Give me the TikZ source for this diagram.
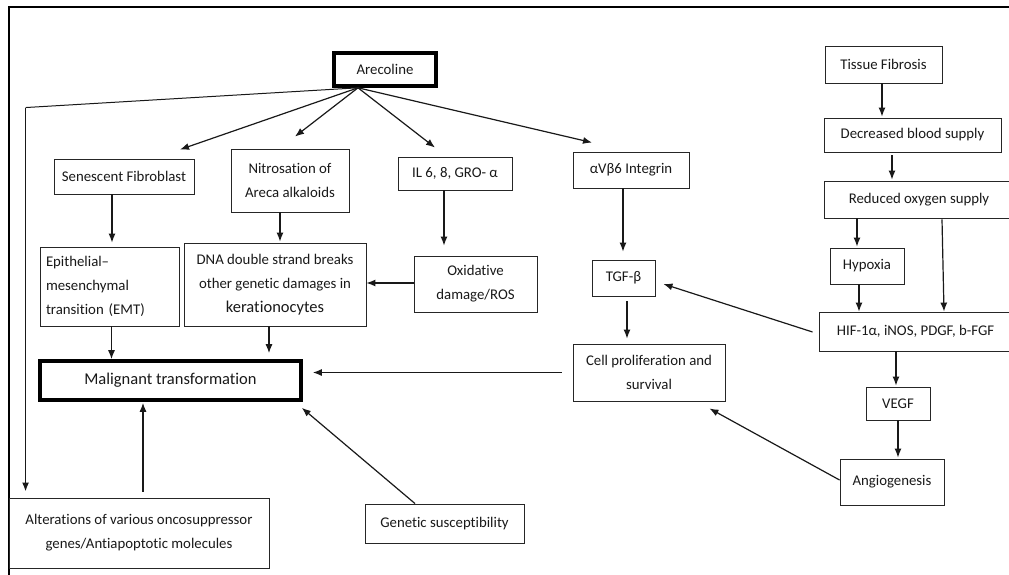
\documentclass[tikz,border=0pt]{standalone}
\usepackage{fontspec}
\setmainfont{Carlito}[Ligatures=NoCommon]
\usetikzlibrary{calc,arrows.meta}
\tikzset{
  box/.style={draw=black!85, line width=0.9pt, inner sep=0pt, align=center, text=black!90,
    font=\fontsize{14.8}{24}\selectfont},
  thickbox/.style={box, line width=3.6pt, draw=black},
  arr/.style={draw=black!90, line width=1.2pt, -{Latex[length=9pt,width=7pt]}},
  frame/.style={draw=black, line width=1.3pt}
}
\begin{document}
\begin{tikzpicture}[x=1pt,y=-1pt]
\useasboundingbox (0,0) rectangle (1009,574);
\clip (0,0) rectangle (1009,574);
\fill[white] (0,0) rectangle (1009,574);
% frame
\draw[frame] (1012,7) -- (9,7) -- (9,580);
% nodes
\node[thickbox, minimum width=102pt, minimum height=33pt] (are) at (385,69.5) {Arecoline};
\node[box, minimum width=140pt, minimum height=35pt] (sen) at (124,176.5) {Senescent Fibroblast};
\node[box, minimum width=118pt, minimum height=63pt] (nit) at (290,180.5) {Nitrosation of\\Areca alkaloids};
\node[box, minimum width=114pt, minimum height=33pt] (il) at (455,173.5) {IL 6, 8, GRO- α};
\node[box, minimum width=116pt, minimum height=36pt] (itg) at (631,170) {αVβ6 Integrin};
\node[box, minimum width=139pt, minimum height=79pt, text width=127pt, align=left] (emt) at (109.5,286.5) {Epithelial–\\mesenchymal\\transition (EMT)};
\node[box, minimum width=182pt, minimum height=83pt] (dna) at (275,284.5) {DNA double strand breaks\\other genetic damages in\\{\fontsize{16.5}{24}\selectfont kerationocytes}};
\node[box, minimum width=123pt, minimum height=56pt] (oxi) at (475.5,284) {Oxidative\\damage/ROS};
\node[thickbox, minimum width=261pt, minimum height=39pt, font=\fontsize{16.5}{24}\selectfont] (mal) at (170.5,380.5) {Malignant transformation};
\node[box, minimum width=260pt, minimum height=70pt] (alt) at (139,533) {\raisebox{5pt}{\parbox{255pt}{\centering Alterations of various oncosuppressor\\genes/Antiapoptotic molecules}}};
\node[box, minimum width=159pt, minimum height=39pt] (gen) at (444.5,523.5) {Genetic susceptibility};
\node[box, minimum width=63pt, minimum height=36pt] (tgf) at (623.5,278) {TGF-β};
\node[box, minimum width=152pt, minimum height=57pt] (cell) at (649,372.5) {Cell proliferation and\\survival};
\node[box, minimum width=117pt, minimum height=37pt] (tis) at (883.5,64.5) {Tissue Fibrosis};
\node[box, minimum width=177pt, minimum height=34pt] (dec) at (912.5,135) {Decreased blood supply};
\node[box, minimum width=190pt, minimum height=37pt] (red) at (919,199.5) {Reduced oxygen supply};
\node[box, minimum width=74pt, minimum height=36pt] (hyp) at (867,266) {Hypoxia};
\node[box, minimum width=193pt, minimum height=39pt] (hif) at (915.5,331.5) {HIF-1α, iNOS, PDGF, b-FGF};
\node[box, minimum width=64pt, minimum height=33pt] (vegf) at (898,403.5) {VEGF};
\node[box, minimum width=104pt, minimum height=46pt] (ang) at (892,482) {Angiogenesis};
% coordinates
\coordinate (src) at ($(are.south)+(-27,0)$);
\coordinate (altTop) at ($(alt.north west)+(17,-6)$);
\coordinate (bend) at ($(altTop)+(0,-384)$);
% connectors from Arecoline
\draw[arr] (src) -- ($(sen.north)+(56,-9)$);
\draw[arr] (src) -- ($(nit.north)+(5,-12)$);
\draw[arr] (src) -- ($(il.north)+(-20,-9)$);
\draw[arr] (src) -- ($(itg.north)+(-39,-9)$);
\draw[draw=black!90, line width=1pt] (src) -- (bend);
\draw[arr, line width=1.6pt] (bend) -- (altTop);
% left column
\draw[arr] ($(sen.south)+(-12,0)$) -- ($(emt.north)+(2.5,-4)$);
\draw[arr] ($(nit.south)+(-10,0)$) -- ($(dna.north)+(5,-1)$);
\draw[arr] ($(il.south)+(-11,0)$) -- ($(oxi.north)+(-31.5,-10)$);
\draw[arr] ($(oxi.west)+(0,-1)$) -- ($(dna.east)+(0,-1.5)$);
\draw[arr] ($(emt.south)+(2,0)$) -- ($(mal.north)+(-59,0)$);
\draw[arr] ($(dna.south)+(-6,0)$) -- ($(mal.north)+(98.5,-6)$);
\draw[arr] ($(cell.west)+(-11,0)$) -- ($(mal.east)+(10,-8)$);
\draw[arr] ($(alt.north)+(4,-6)$) -- ($(mal.south)+(-27.5,1)$);
\draw[arr] ($(gen.north)+(-29.5,0)$) -- ($(mal.south east)+(-1,6)$);
% middle
\draw[arr] ($(itg.south)+(-8,0)$) -- ($(tgf.north)+(-0.5,-8)$);
\draw[arr] ($(tgf.south)+(3.5,5)$) -- ($(cell.north)+(-22,-5)$);
\draw[arr] ($(hif.west)+(-6,0.5)$) -- ($(tgf.east)+(8,6)$);
\draw[arr] ($(ang.west)+(0,-2)$) -- ($(cell.south east)+(-16,7)$);
% right column
\draw[arr] ($(tis.south)+(-1.5,0)$) -- ($(dec.north)+(-30.5,-1)$);
\draw[arr] ($(dec.south)+(-20.5,3)$) -- ($(red.north)+(-27,-1)$);
\draw[arr] ($(red.south)+(-62,0)$) -- ($(hyp.north)+(-10,-1)$);
\draw[arr] ($(red.south)+(23,1)$) -- ($(hif.north)+(28.5,0)$);
\draw[arr] ($(hyp.south)+(-8,0)$) -- ($(hif.north)+(-56.5,0)$);
\draw[arr] ($(hif.south)+(-19.5,0)$) -- ($(vegf.north)+(-2,-1)$);
\draw[arr] (vegf.south) -- ($(ang.north)+(6,-1)$);
\end{tikzpicture}
\end{document}
